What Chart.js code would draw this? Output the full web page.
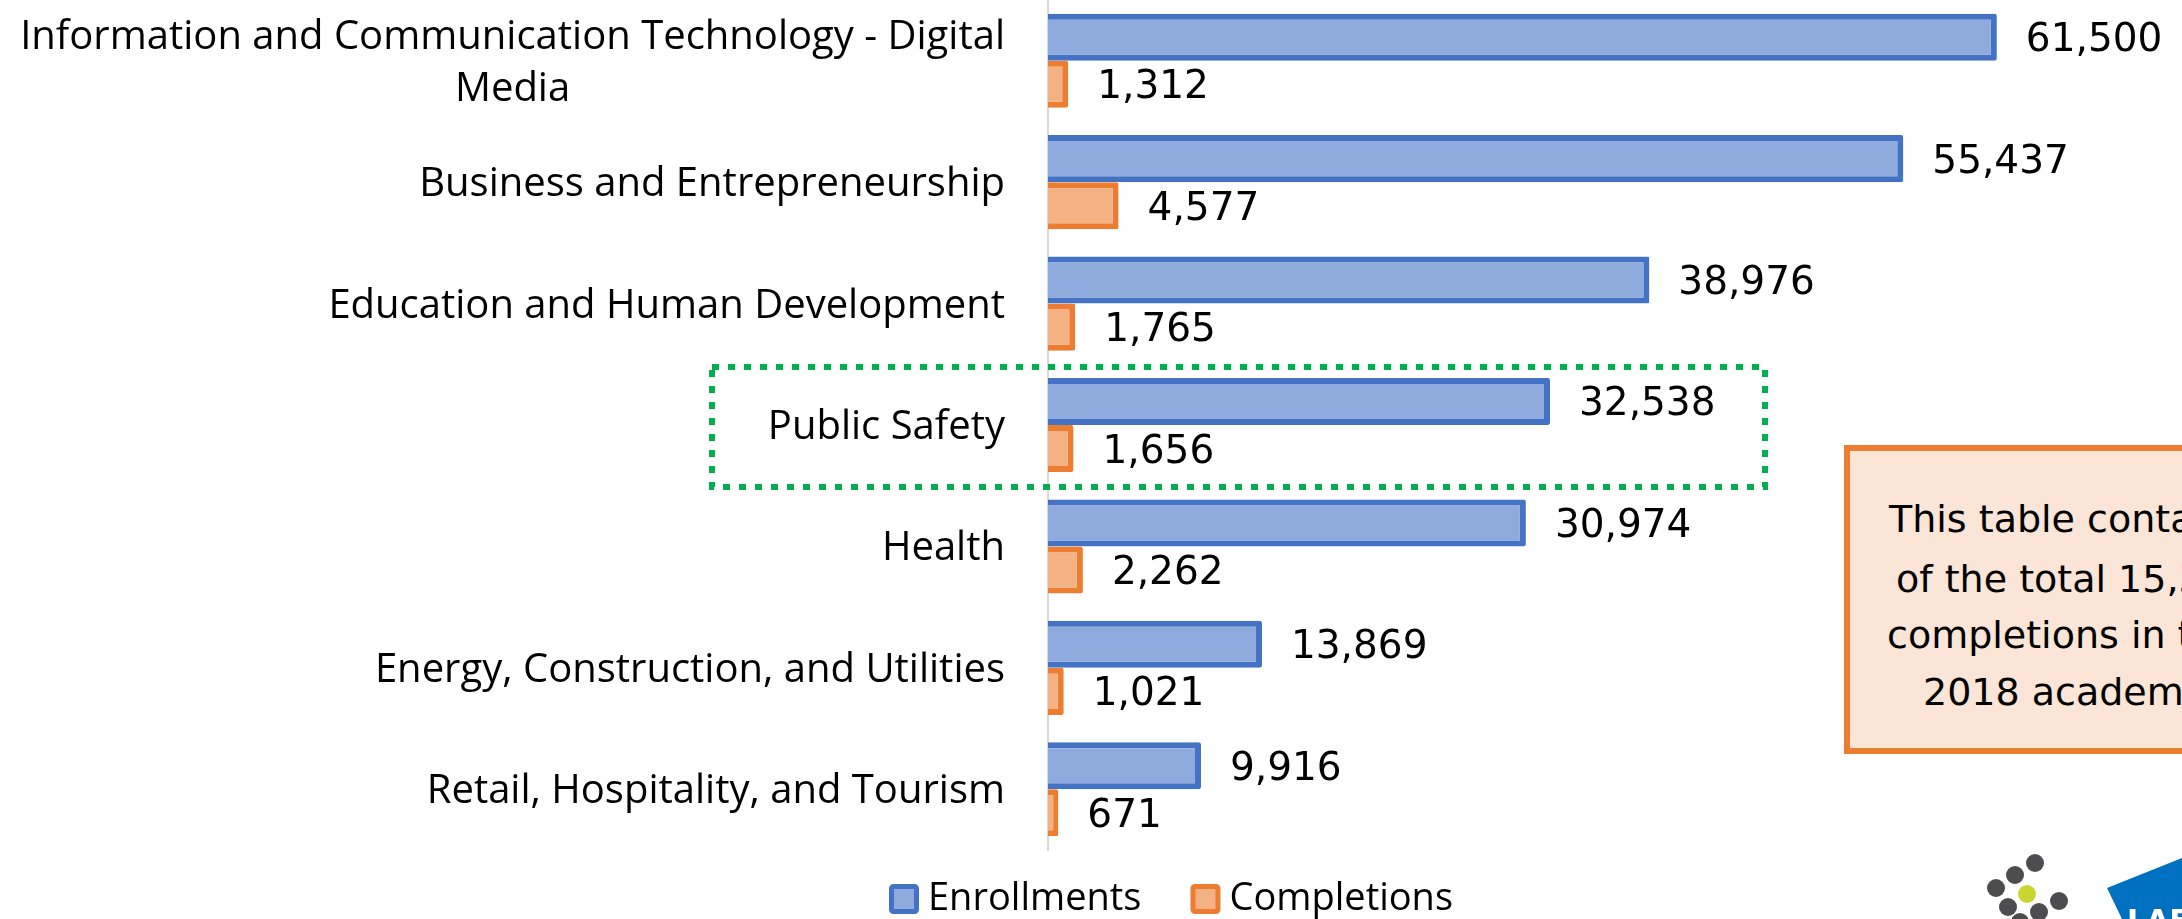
<!DOCTYPE html>
<html>
<head>
<meta charset="utf-8">
<title>Enrollments and Completions by Sector</title>
<script src="https://cdn.jsdelivr.net/npm/chart.js@4.4.1/dist/chart.umd.min.js"></script>
<style>
    html, body { margin: 0; padding: 0; background: #fff; overflow: hidden; }
    #wrap { position: relative; width: 2182px; height: 919px; }
    #note {
        position: absolute; left: 1844px; top: 445px;
        width: 520px; height: 297px;
        border: 6px solid #ED7D31; background: #FBE5D6;
        font-family: "DejaVu Sans", sans-serif; font-size: 38px; line-height: 44px; color: #000;
    }
    #note .line { position: absolute; white-space: nowrap; }
</style>
</head>
<body>
<div id="wrap">
    <canvas id="sectorChart" width="2182" height="919"></canvas>
    <div id="note">
        <div class="line" style="left:39px;top:46px">This table contains 86%</div>
        <div class="line" style="left:46px;top:106px">of the total 15,394</div>
        <div class="line" style="left:37px;top:162px">completions in the 2017-</div>
        <div class="line" style="left:73px;top:219px">2018 academic year.</div>
    </div>
</div>
<script>
(function () {
    'use strict';

    const categories = [
        ['Information and Communication Technology - Digital', 'Media'],
        'Business and Entrepreneurship',
        'Education and Human Development',
        'Public Safety',
        'Health',
        'Energy, Construction, and Utilities',
        'Retail, Hospitality, and Tourism'
    ];
    const enrollments = [61500, 55437, 38976, 32538, 30974, 13869, 9916];
    const completions = [1312, 4577, 1765, 1656, 2262, 1021, 671];
    const seriesNames = ['Enrollments', 'Completions'];
    const highlightIndex = 3;

    const labelFont = '40px "Open Sans"';
    const legendFont = '38px "Open Sans"';
    const valueFont = '39px "DejaVu Sans"';

    // category names, right aligned; wrapped lines centred on each other like Excel
    const categoryLabels = {
        id: 'categoryLabels',
        afterDraw(chart) {
            const ctx = chart.ctx;
            const yScale = chart.scales.y;
            const right = chart.chartArea.left - 43;
            ctx.save();
            ctx.font = labelFont;
            ctx.fillStyle = '#000';
            ctx.textBaseline = 'alphabetic';
            ctx.textAlign = 'center';
            categories.forEach((label, i) => {
                const lines = Array.isArray(label) ? label : [label];
                const widest = Math.max(...lines.map((l) => ctx.measureText(l).width));
                const y = yScale.getPixelForValue(i);
                lines.forEach((line, j) => {
                    const ly = y + (j - (lines.length - 1) / 2) * 52;
                    ctx.fillText(line, right - widest / 2, ly + 14);
                });
            });
            ctx.restore();
        }
    };

    const valueLabels = {
        id: 'valueLabels',
        afterDatasetsDraw(chart) {
            const ctx = chart.ctx;
            ctx.save();
            ctx.font = valueFont;
            ctx.fillStyle = '#000';
            ctx.textAlign = 'left';
            ctx.textBaseline = 'alphabetic';
            chart.data.datasets.forEach((ds, di) => {
                chart.getDatasetMeta(di).data.forEach((bar, i) => {
                    ctx.fillText(ds.data[i].toLocaleString('en-US'), bar.x + 29, bar.y + 14);
                });
            });
            ctx.restore();
        }
    };

    const highlightBox = {
        id: 'highlightBox',
        afterDraw(chart) {
            const ctx = chart.ctx;
            const y = chart.scales.y.getPixelForValue(highlightIndex);
            ctx.save();
            ctx.strokeStyle = '#00B050';
            ctx.lineWidth = 6;
            ctx.setLineDash([7, 9]);
            ctx.strokeRect(712, y - 58, 1053, 120);
            ctx.restore();
        }
    };

    const bottomLegend = {
        id: 'bottomLegend',
        afterDraw(chart) {
            const ctx = chart.ctx;
            let x = 889;
            ctx.save();
            ctx.font = legendFont;
            ctx.textBaseline = 'alphabetic';
            ctx.textAlign = 'left';
            chart.data.datasets.forEach((ds) => {
                ctx.fillStyle = ds.backgroundColor;
                ctx.strokeStyle = ds.borderColor;
                ctx.lineWidth = 5;
                ctx.beginPath();
                ctx.roundRect(x + 2.5, 886.5, 25, 25, 2);
                ctx.fill();
                ctx.stroke();
                ctx.fillStyle = '#000';
                ctx.fillText(ds.label, x + 39, 910);
                x += 39 + ctx.measureText(ds.label).width + 49;
            });
            ctx.restore();
        }
    };

    const logo = {
        id: 'logo',
        afterDraw(chart) {
            const ctx = chart.ctx;
            const dots = [[2035, 863], [2015, 875], [1996, 888], [2008, 907], [2059, 901], [2039, 912], [2020, 922]];
            ctx.save();
            ctx.fillStyle = '#4D4D4F';
            dots.forEach(([dx, dy]) => {
                ctx.beginPath();
                ctx.arc(dx, dy, 9, 0, Math.PI * 2);
                ctx.fill();
            });
            ctx.fillStyle = '#C9D630';
            ctx.beginPath();
            ctx.arc(2027, 894, 9, 0, Math.PI * 2);
            ctx.fill();
            ctx.fillStyle = '#0070C0';
            ctx.beginPath();
            ctx.moveTo(2107, 888);
            ctx.lineTo(2182, 858);
            ctx.lineTo(2182, 919);
            ctx.lineTo(2122, 919);
            ctx.closePath();
            ctx.fill();
            ctx.fillStyle = '#fff';
            ctx.font = 'bold 30px "DejaVu Sans"';
            ctx.fillText('LAF', 2127, 931);
            ctx.restore();
        }
    };

    function initializeChart() {
        const chartElement = document.getElementById('sectorChart');
        new Chart(chartElement, {
            type: 'bar',
            data: {
                labels: categories,
                datasets: [
                    {
                        label: seriesNames[0],
                        data: enrollments,
                        backgroundColor: '#8FAADC',
                        borderColor: '#4472C4',
                        borderWidth: 6,
                        borderRadius: 2
                    },
                    {
                        label: seriesNames[1],
                        data: completions,
                        backgroundColor: '#F4B183',
                        borderColor: '#ED7D31',
                        borderWidth: 6,
                        borderRadius: 2
                    }
                ]
            },
            options: {
                indexAxis: 'y',
                responsive: false,
                animation: false,
                events: [],
                layout: { padding: { top: 0, right: 54, bottom: 69, left: 0 } },
                datasets: { bar: { categoryPercentage: 0.775, barPercentage: 1 } },
                plugins: {
                    legend: { display: false },
                    tooltip: { enabled: false }
                },
                scales: {
                    x: { display: false, min: 0, max: 70000 },
                    y: {
                        ticks: { display: false },
                        grid: { display: false },
                        border: { color: '#D9D9D9', width: 2 },
                        afterFit: (scale) => { scale.width = 1048; }
                    }
                }
            },
            plugins: [categoryLabels, valueLabels, highlightBox, bottomLegend, logo]
        });
    }

    Promise.all([
        document.fonts.load(labelFont),
        document.fonts.load(valueFont)
    ]).catch(() => null).then(initializeChart);
})();
</script>
</body>
</html>
